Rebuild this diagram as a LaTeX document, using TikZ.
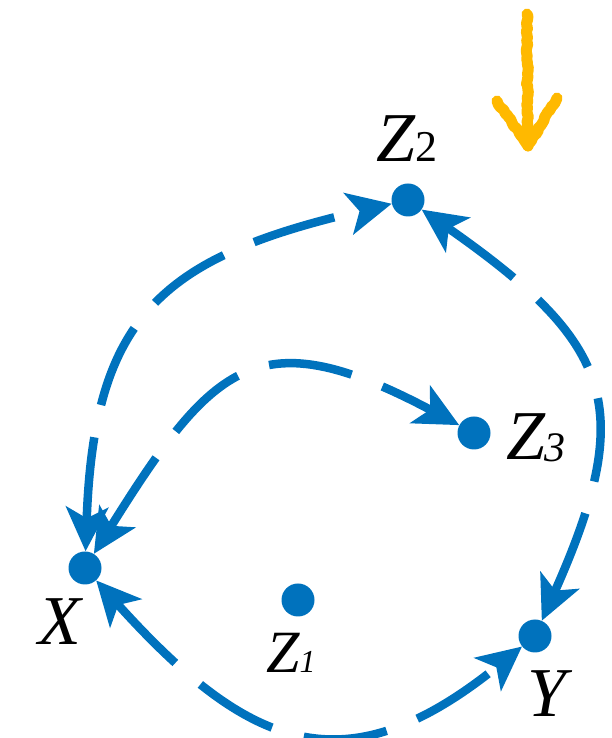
\documentclass[tikz,border=0pt]{standalone}
\usepackage{fontspec}
\setmainfont{Liberation Serif}
\usetikzlibrary{arrows.meta,decorations.pathmorphing}
\definecolor{linkblue}{RGB}{0,114,189}
\definecolor{markyellow}{RGB}{255,185,0}

\begin{document}
\begin{tikzpicture}[
    x=1pt, y=1pt,
    dot/.style={circle, fill=linkblue, minimum size=33pt, inner sep=0pt},
    lab/.style={anchor=base, inner sep=0pt, font=\fontsize{70}{70}\selectfont\itshape},
    link/.style={{Stealth[length=44pt, width=42pt, inset=11pt]}-{Stealth[length=44pt, width=42pt, inset=11pt]}, line width=8.5pt, draw=linkblue, dash pattern=on 84pt off 33pt},
    crayon/.style={draw=markyellow, line width=11pt, line cap=round, line join=round, decorate, decoration={random steps, segment length=3pt, amplitude=1pt}}
]
\useasboundingbox (0,0) rectangle (612,738);

% Points
\node[dot] (X) at (85,170) {};
\node[dot] (Z1) at (298,138) {};
\node[dot] (Z2) at (408,538) {};
\node[dot] (Z3) at (474,305) {};
\node[dot] (Y) at (535,102) {};

% Labels
\node[lab] (lX) at (60,93) {X};
\node[lab] (lY) at (547,21) {Y};
\node[lab] (lZ2) at (407,576) {Z{\fontsize{44}{44}\selectfont\upshape 2}};
\node[lab] (lZ3) at (536,278) {Z\raisebox{-2pt}{\fontsize{42}{42}\selectfont 3}};
\node[lab, font=\fontsize{60}{60}\selectfont\itshape] (lZ1) at (291,65) {Z{\fontsize{32}{32}\selectfont 1}};

% Dashed arcs
\draw[link] (X) to[out=88, in=193, looseness=1.3] (Z2);
\draw[link] (X) to[out=58, in=152, looseness=1.5] (Z3);
\draw[link] (Z2) to[out=-35, in=66, looseness=1.4] (Y);
\draw[link] (X) to[out=-48, in=219, looseness=1.35] (Y);

% Hand-drawn marker
\coordinate (mtop) at (527,724);
\coordinate (mtip) at (528,592);
\coordinate (mleft) at (497,637);
\coordinate (mright) at (557,640);
\draw[crayon] (mtop) -- (mtip);
\draw[crayon] (mleft) -- (mtip) -- (mright);

\end{tikzpicture}
\end{document}
